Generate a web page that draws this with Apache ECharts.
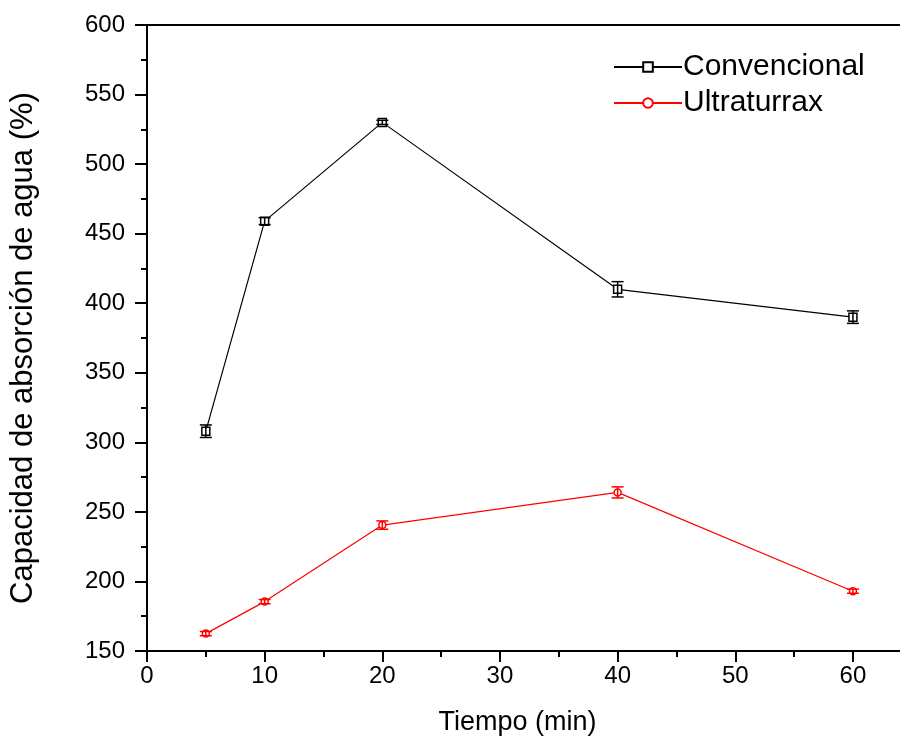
<!DOCTYPE html>
<html>
<head>
<meta charset="utf-8">
<script src="https://cdn.jsdelivr.net/npm/echarts@6/dist/echarts.min.js"></script>
<style>html,body{margin:0;padding:0;background:#fff}#c{width:900px;height:742px}</style>
</head>
<body>
<div id="c"></div>
<script>
var tiempo = [5, 10, 20, 40, 60];
var convencional = [308, 459, 530, 410, 390];
var convencionalErr = [4.5, 2.5, 1.5, 5.5, 4.5];
var ultraturrax = [162.5, 185.5, 240.5, 264, 193];
var ultraturraxErr = [1.5, 1.5, 3, 4, 1.5];
var xMajorTicks = [0, 10, 20, 30, 40, 50, 60];
var xMinorTicks = [5, 15, 25, 35, 45, 55];

function pairs(xs, ys) { return xs.map(function (x, i) { return [x, ys[i]]; }); }
function errData(xs, ys, es) { return xs.map(function (x, i) { return [x, ys[i] - es[i], ys[i] + es[i]]; }); }
function errRender(color) {
  return function (params, api) {
    var lo = api.coord([api.value(0), api.value(1)]);
    var hi = api.coord([api.value(0), api.value(2)]);
    var w = 6;
    var st = { stroke: color, lineWidth: 1.5 };
    return { type: 'group', children: [
      { type: 'line', shape: { x1: lo[0], y1: lo[1], x2: hi[0], y2: hi[1] }, style: st },
      { type: 'line', shape: { x1: lo[0] - w, y1: lo[1], x2: lo[0] + w, y2: lo[1] }, style: st },
      { type: 'line', shape: { x1: hi[0] - w, y1: hi[1], x2: hi[0] + w, y2: hi[1] }, style: st }
    ]};
  };
}

var font = 'Liberation Sans, Arial, sans-serif';
var axisLineStyle = { color: '#000', width: 2 };
var chart = echarts.init(document.getElementById('c'));
chart.setOption({
  animation: false,
  grid: { left: 146, top: 25, right: 0, bottom: 91 },
  legend: {
    orient: 'vertical', left: 608, top: 47, itemWidth: 68, itemHeight: 12, itemGap: 6,
    textStyle: { fontFamily: font, fontSize: 30, color: '#000', padding: [0, 0, 0, -4] },
    data: ['Convencional', 'Ultraturrax']
  },
  xAxis: [{
    type: 'value', min: 0, max: 64, 
    name: 'Tiempo (min)', nameLocation: 'middle', nameGap: 58,
    nameTextStyle: { fontFamily: font, fontSize: 27, color: '#000', padding: [0, 12, 0, 0] },
    axisLine: { lineStyle: axisLineStyle },
    axisTick: { inside: false, length: 11, lineStyle: axisLineStyle, customValues: xMajorTicks },
    axisLabel: { fontFamily: font, fontSize: 24, color: '#000', margin: 13, customValues: xMajorTicks },
    splitLine: { show: false }
  }, {
    type: 'value', min: 0, max: 64, position: 'bottom',
    axisLine: { show: false },
    axisTick: { inside: false, length: 6, lineStyle: axisLineStyle, customValues: xMinorTicks },
    axisLabel: { show: false },
    splitLine: { show: false }
  }, {
    type: 'value', min: 0, max: 64, position: 'top',
    axisLine: { show: true, lineStyle: axisLineStyle },
    axisTick: { show: false }, axisLabel: { show: false }, splitLine: { show: false }
  }],
  yAxis: {
    type: 'value', min: 150, max: 600, interval: 50,
    name: 'Capacidad de absorción de agua (%)', nameLocation: 'middle', nameGap: 108,
    nameTextStyle: { fontFamily: font, fontSize: 31, color: '#000', padding: [0, 20, 0, 0] },
    axisLine: { lineStyle: axisLineStyle },
    axisTick: { inside: false, length: 12, lineStyle: axisLineStyle },
    minorTick: { show: true, splitNumber: 2, length: 6, lineStyle: axisLineStyle },
    axisLabel: { fontFamily: font, fontSize: 24, color: '#000', margin: 22 },
    splitLine: { show: false }
  },
  series: [
    { name: 'Convencional', type: 'line', data: pairs(tiempo, convencional), symbol: 'rect', symbolSize: 8, showAllSymbol: true,
      lineStyle: { color: '#000', width: 1.2 }, itemStyle: { color: '#fff', borderColor: '#000', borderWidth: 1.5 }, z: 3 },
    { name: 'Ultraturrax', type: 'line', data: pairs(tiempo, ultraturrax), symbol: 'circle', symbolSize: 7, showAllSymbol: true,
      lineStyle: { color: '#ff0000', width: 1.2 }, itemStyle: { color: '#fff', borderColor: '#ff0000', borderWidth: 1.5 }, z: 3 },
    { type: 'custom', data: errData(tiempo, convencional, convencionalErr), renderItem: errRender('#000'), encode: { x: 0, y: [1, 2] }, z: 4 },
    { type: 'custom', data: errData(tiempo, ultraturrax, ultraturraxErr), renderItem: errRender('#ff0000'), encode: { x: 0, y: [1, 2] }, z: 4 }
  ]
});
</script>
</body>
</html>
